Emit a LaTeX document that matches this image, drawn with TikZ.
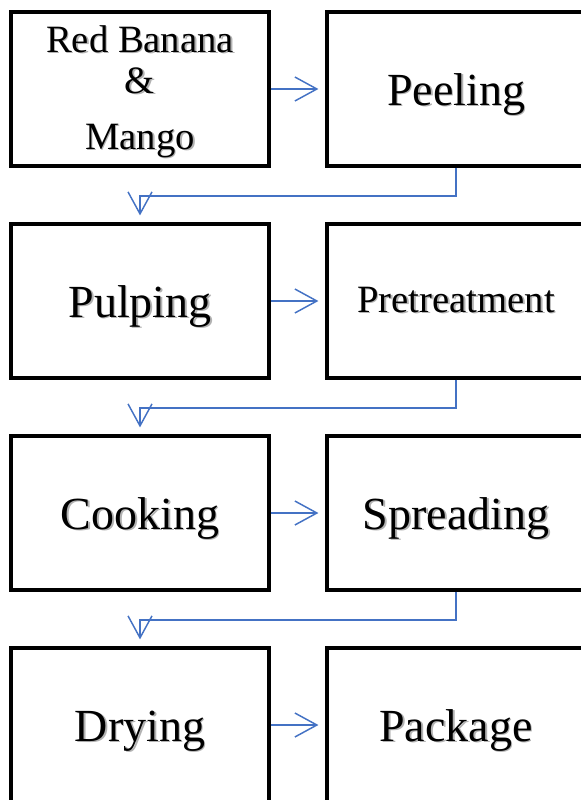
\documentclass[tikz,border=0pt]{standalone}
\usepackage{fontspec}
\setmainfont{Liberation Serif}
\usetikzlibrary{arrows.meta}
\definecolor{conncol}{RGB}{68,114,196}
\newcommand\shadowlabel[4]{%
  \node[#2, text=black!30, xshift=1.3pt, yshift=-1.3pt] (#1s) at #3 {#4};
  \node[#2] (#1) at #3 {#4};}
\begin{document}
\begin{tikzpicture}[x=0.75pt,y=-0.75pt,
  box/.style={rectangle, draw=black, line width=2.4pt, minimum width=193.5pt, minimum height=115.5pt, inner sep=0pt},
  conn/.style={draw=conncol, line width=1.1pt, -{Straight Barb[length=16.5pt,width=18pt]}, shorten >=5.25pt},
  big/.style={font=\fontsize{34.5}{40}\selectfont, anchor=base, inner sep=0pt},
  small/.style={font=\fontsize{29}{34}\selectfont, anchor=base, inner sep=0pt},
]
\useasboundingbox (0,0) rectangle (581,800);
\fill[white] (0,0) rectangle (581,800);
\clip (0,0) rectangle (581,800);

% boxes
\node[box] (b1) at (140,89) {};
\node[box] (b2) at (456,89) {};
\node[box] (b3) at (140,301) {};
\node[box] (b4) at (456,301) {};
\node[box] (b5) at (140,513) {};
\node[box] (b6) at (456,513) {};
\node[box] (b7) at (140,725) {};
\node[box] (b8) at (456,725) {};

% labels
\shadowlabel{t1a}{small}{(140,52)}{Red Banana}
\shadowlabel{t1b}{small}{(140,93)}{\&}
\shadowlabel{t1c}{small}{(140,149)}{Mango}
\shadowlabel{t2}{big}{(456,105)}{Peeling}
\shadowlabel{t3}{big}{(140,317)}{Pulping}
\shadowlabel{t4}{small}{(456,312)}{Pretreatment}
\shadowlabel{t5}{big}{(140,529)}{Cooking}
\shadowlabel{t6}{big}{(456,529)}{Spreading}
\shadowlabel{t7}{big}{(140,741)}{Drying}
\shadowlabel{t8}{big}{(456,741)}{Package}

% connectors
\draw[conn] (b1.east) -- (b2.west);
\draw[conn] (b3.east) -- (b4.west);
\draw[conn] (b5.east) -- (b6.west);
\draw[conn] (b7.east) -- (b8.west);
\draw[conn] (b2.south) -- ++(0,28.5) -| (b3.north);
\draw[conn] (b4.south) -- ++(0,28.5) -| (b5.north);
\draw[conn] (b6.south) -- ++(0,28.5) -| (b7.north);
\end{tikzpicture}
\end{document}
